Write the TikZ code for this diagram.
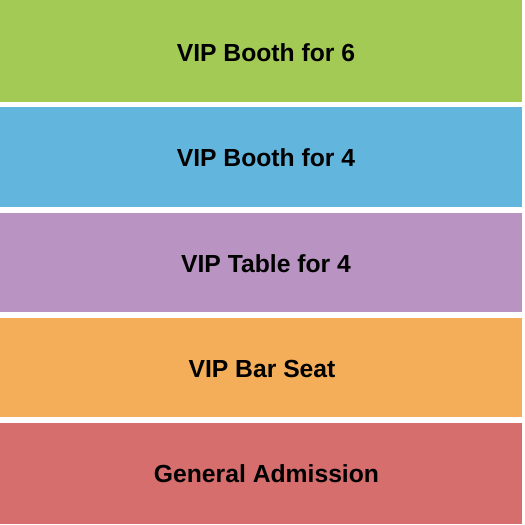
\documentclass[tikz,border=0pt]{standalone}
\usepackage{fontspec}
\setmainfont{Liberation Sans}
\definecolor{cgreen}{HTML}{A4CA56}
\definecolor{cblue}{HTML}{62B6DD}
\definecolor{cpurple}{HTML}{B993C1}
\definecolor{corange}{HTML}{F4AE5A}
\definecolor{cred}{HTML}{D66E6E}
\tikzset{
  band/.style={fill=#1, draw=none},
  lbl/.style={font=\fontsize{24.7}{29}\selectfont\bfseries, text=black, inner sep=0pt, anchor=center}
}
\begin{document}
\begin{tikzpicture}[x=1pt,y=-1pt]
\useasboundingbox[fill=white] (0,0) rectangle (525,525);
\path[band=cgreen]  (0,0)     rectangle (522,101.8);
\path[band=cblue]   (0,107.3) rectangle (522,207);
\path[band=cpurple] (0,212.8) rectangle (522,312.2);
\path[band=corange] (0,318)   rectangle (522,416.5);
\path[band=cred]    (0,423)   rectangle (522,523.5);
\node[lbl] (t1) at (266,52.5) {VIP Booth for 6};
\node[lbl] (t2) at (266,158) {VIP Booth for 4};
\node[lbl] (t3) at (266,263.5) {VIP Table for 4};
\node[lbl] (t4) at (262,368.5) {VIP Bar Seat};
\node[lbl] (t5) at (266.5,473.5) {General Admission};
\end{tikzpicture}
\end{document}
